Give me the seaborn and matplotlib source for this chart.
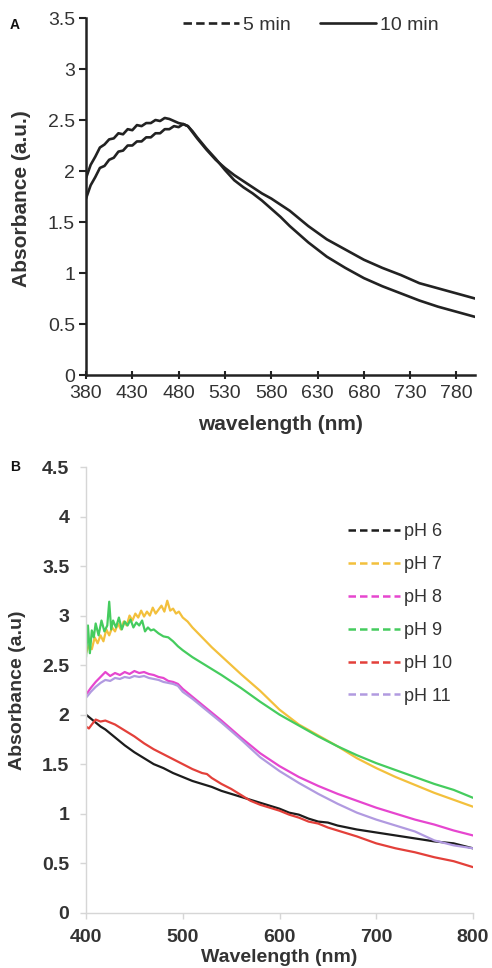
import numpy as np
import pandas as pd
import matplotlib
matplotlib.use("Agg")
import matplotlib.pyplot as plt
import seaborn as sns
from matplotlib.lines import Line2D

# ---------------- Panel A data ----------------
wl_a = [380, 385, 390, 395, 400, 405, 410, 415, 420, 425, 430, 435, 440, 445, 450,
        455, 460, 465, 470, 475, 480, 485, 490, 495, 500, 510, 520, 530, 540, 550,
        560, 570, 580, 590, 600, 620, 640, 660, 680, 700, 720, 740, 760, 780, 800]
abs_10min = [1.93, 2.06, 2.14, 2.23, 2.26, 2.31, 2.32, 2.37, 2.36, 2.41, 2.40, 2.45, 2.44, 2.47, 2.47,
             2.50, 2.49, 2.52, 2.51, 2.49, 2.47, 2.46, 2.44, 2.39, 2.33, 2.22, 2.12, 2.01, 1.91, 1.84,
             1.78, 1.71, 1.63, 1.55, 1.46, 1.30, 1.16, 1.05, 0.95, 0.87, 0.80, 0.73, 0.67, 0.62, 0.57]
abs_5min = [1.73, 1.86, 1.94, 2.03, 2.05, 2.11, 2.13, 2.19, 2.20, 2.25, 2.25, 2.29, 2.29, 2.33, 2.33,
            2.37, 2.37, 2.41, 2.41, 2.44, 2.43, 2.46, 2.44, 2.38, 2.32, 2.21, 2.11, 2.03, 1.96, 1.90,
            1.84, 1.78, 1.73, 1.67, 1.61, 1.46, 1.33, 1.23, 1.13, 1.05, 0.98, 0.90, 0.85, 0.80, 0.75]
xticks_a = [380, 430, 480, 530, 580, 630, 680, 730, 780]
yticks_a = [0, 0.5, 1, 1.5, 2, 2.5, 3, 3.5]
ytick_labels_a = ["0", "0.5", "1", "1.5", "2", "2.5", "3", "3.5"]

# ---------------- Panel B data ----------------
wl_ph6 = [400, 405, 410, 415, 420, 430, 440, 450, 460, 470, 480, 490, 500, 510, 520, 530, 540, 550,
          560, 570, 580, 590, 600, 610, 620, 630, 640, 650, 660, 680, 700, 720, 740, 760, 780, 800]
abs_ph6 = [2.00, 1.96, 1.92, 1.88, 1.85, 1.77, 1.69, 1.62, 1.56, 1.50, 1.46, 1.41, 1.37, 1.33, 1.30,
           1.27, 1.23, 1.20, 1.17, 1.14, 1.11, 1.08, 1.05, 1.01, 0.99, 0.95, 0.92, 0.91, 0.88, 0.84,
           0.81, 0.78, 0.75, 0.72, 0.70, 0.65]

wl_ph7 = [400, 403, 406, 409, 412, 415, 418, 421, 424, 427, 430, 433, 436, 439, 442, 445, 448, 451,
          454, 457, 460, 463, 466, 469, 472, 475, 478, 481, 484, 487, 490, 493, 496, 500, 505, 510,
          520, 530, 540, 550, 560, 580, 600, 620, 640, 660, 680, 700, 720, 740, 760, 780, 800]
abs_ph7 = [2.62, 2.70, 2.66, 2.78, 2.72, 2.80, 2.74, 2.86, 2.80, 2.88, 2.84, 2.92, 2.86, 2.94, 2.90,
           3.00, 2.95, 3.02, 2.98, 3.05, 2.99, 3.04, 3.00, 3.08, 3.02, 3.06, 3.10, 3.04, 3.15, 3.05,
           3.07, 3.02, 3.04, 2.98, 2.94, 2.88, 2.78, 2.68, 2.59, 2.50, 2.41, 2.24, 2.05, 1.90, 1.79,
           1.68, 1.56, 1.46, 1.37, 1.29, 1.21, 1.14, 1.07]

wl_ph8 = [400, 405, 410, 415, 420, 425, 430, 435, 440, 445, 450, 455, 460, 465, 470, 475, 480, 485,
          490, 495, 500, 510, 520, 530, 540, 560, 580, 600, 620, 640, 660, 680, 700, 720, 740, 760,
          780, 800]
abs_ph8 = [2.20, 2.27, 2.33, 2.38, 2.43, 2.39, 2.42, 2.40, 2.43, 2.41, 2.44, 2.42, 2.43, 2.41, 2.40,
           2.38, 2.37, 2.34, 2.33, 2.31, 2.26, 2.18, 2.10, 2.02, 1.94, 1.77, 1.61, 1.48, 1.37, 1.28,
           1.20, 1.13, 1.06, 1.00, 0.94, 0.89, 0.83, 0.78]

wl_ph9 = [400, 402, 404, 406, 408, 410, 413, 416, 419, 422, 424, 426, 428, 431, 434, 437, 440, 443,
          446, 449, 452, 455, 458, 461, 464, 467, 470, 475, 480, 485, 490, 495, 500, 510, 520, 530,
          540, 560, 580, 600, 620, 640, 660, 680, 700, 720, 740, 760, 780, 800]
abs_ph9 = [2.58, 2.90, 2.62, 2.85, 2.78, 2.92, 2.80, 2.95, 2.84, 2.90, 3.14, 2.86, 2.95, 2.88, 2.98,
           2.86, 2.94, 2.90, 2.96, 2.88, 2.93, 2.90, 2.95, 2.84, 2.88, 2.85, 2.86, 2.82, 2.79, 2.78,
           2.74, 2.69, 2.65, 2.58, 2.52, 2.46, 2.40, 2.27, 2.13, 2.00, 1.89, 1.78, 1.68, 1.59, 1.51,
           1.44, 1.37, 1.30, 1.24, 1.16]

wl_ph10 = [400, 403, 406, 410, 415, 420, 425, 430, 440, 450, 460, 470, 480, 490, 500, 510, 520, 525,
           530, 540, 550, 560, 570, 580, 590, 600, 610, 620, 630, 640, 650, 660, 680, 700, 720, 740,
           760, 780, 800]
abs_ph10 = [1.88, 1.86, 1.90, 1.95, 1.93, 1.94, 1.92, 1.90, 1.84, 1.78, 1.71, 1.65, 1.60, 1.55, 1.50,
            1.45, 1.41, 1.40, 1.36, 1.30, 1.25, 1.19, 1.13, 1.09, 1.06, 1.03, 0.99, 0.96, 0.92, 0.90,
            0.86, 0.83, 0.77, 0.70, 0.65, 0.61, 0.56, 0.52, 0.46]

wl_ph11 = [400, 405, 410, 415, 420, 425, 430, 435, 440, 445, 450, 455, 460, 465, 470, 475, 480, 485,
           490, 495, 500, 510, 520, 530, 540, 560, 580, 600, 620, 640, 660, 680, 700, 720, 740, 760,
           780, 800]
abs_ph11 = [2.17, 2.23, 2.28, 2.32, 2.35, 2.34, 2.37, 2.36, 2.38, 2.37, 2.39, 2.38, 2.39, 2.37, 2.36,
            2.35, 2.33, 2.32, 2.31, 2.29, 2.23, 2.16, 2.08, 2.00, 1.92, 1.75, 1.57, 1.43, 1.31, 1.20,
            1.10, 1.01, 0.94, 0.88, 0.82, 0.73, 0.68, 0.65]

ph_labels = ["pH 6", "pH 7", "pH 8", "pH 9", "pH 10", "pH 11"]
ph_colors = ["#1c1c1c", "#f3c03c", "#e646cf", "#45cc5e", "#e3403a", "#b19ae0"]
xticks_b = [400, 500, 600, 700, 800]
yticks_b = [0, 0.5, 1, 1.5, 2, 2.5, 3, 3.5, 4, 4.5]
ytick_labels_b = ["0", "0.5", "1", "1.5", "2", "2.5", "3", "3.5", "4", "4.5"]

# ---------------- Figure ----------------
sns.set_style("white")
plt.rcParams['font.family'] = ['Liberation Sans', 'DejaVu Sans']

W, H = 492, 968
fig = plt.figure(figsize=(W / 100, H / 100), dpi=100)
axA = fig.add_axes([86 / W, 1 - 375 / H, (475 - 86) / W, (375 - 18) / H])
axB = fig.add_axes([86 / W, 1 - 912.7 / H, (473 - 86) / W, (912.7 - 467) / H])

dark = "#222222"
txt = "#333333"

# Panel A
sns.lineplot(x=wl_a, y=abs_5min, ax=axA, color=dark, lw=1.9, estimator=None)
sns.lineplot(x=wl_a, y=abs_10min, ax=axA, color=dark, lw=1.9, estimator=None)
axA.set_xlim(380, 800)
axA.set_ylim(0, 3.5)
axA.set_xticks(xticks_a)
axA.set_xticklabels([str(v) for v in xticks_a])
axA.set_yticks(yticks_a)
axA.set_yticklabels(ytick_labels_a)
for s in ["top", "right"]:
    axA.spines[s].set_visible(False)
for s in ["left", "bottom"]:
    axA.spines[s].set_color(dark)
    axA.spines[s].set_linewidth(1.8)
axA.tick_params(axis="y", direction="out", length=5, width=1.5, color=dark, pad=3,
                labelsize=14, labelcolor=txt, left=True)
axA.tick_params(axis="x", direction="inout", length=6, width=1.5, color=dark, pad=4,
                labelsize=14, labelcolor=txt, bottom=True)
axA.set_xlabel("wavelength (nm)", fontsize=15, fontweight="bold", color=txt)
axA.set_ylabel("Absorbance (a.u.)", fontsize=15, fontweight="bold", color=txt)
axA.xaxis.set_label_coords(0.499, -0.14)
axA.xaxis.label.set_va("center")
axA.yaxis.set_label_coords(-0.165, 0.495)
axA.yaxis.label.set_va("center")
axA.grid(False)
hA = [Line2D([0], [0], color=dark, lw=1.9, dashes=(3.2, 1.6)),
      Line2D([0], [0], color=dark, lw=1.9)]
axA.legend(hA, ["5 min", "10 min"], loc="center", bbox_to_anchor=(0.578, 0.98), ncol=2,
           frameon=False, fontsize=14, handlelength=2.9, handletextpad=0.2,
           columnspacing=1.5, labelcolor=txt, borderpad=0)

# Panel B
series = [(wl_ph6, abs_ph6), (wl_ph7, abs_ph7), (wl_ph8, abs_ph8),
          (wl_ph9, abs_ph9), (wl_ph10, abs_ph10), (wl_ph11, abs_ph11)]
for (wl, ab), c in zip(series, ph_colors):
    sns.lineplot(x=wl, y=ab, ax=axB, color=c, lw=1.6, estimator=None)
axB.set_xlim(400, 800)
axB.set_ylim(0, 4.5)
axB.set_xticks(xticks_b)
axB.set_xticklabels([str(v) for v in xticks_b])
axB.set_yticks(yticks_b)
axB.set_yticklabels(ytick_labels_b)
for s in ["top", "right"]:
    axB.spines[s].set_visible(False)
for s in ["left", "bottom"]:
    axB.spines[s].set_color("#d6d6d6")
    axB.spines[s].set_linewidth(1.0)
axB.tick_params(axis="both", direction="out", length=4, width=1.0, color="#d6d6d6", pad=8,
                labelsize=14, labelcolor=txt, left=True, bottom=True)
for lab in axB.get_xticklabels() + axB.get_yticklabels():
    lab.set_fontweight("bold")
axB.set_xlabel("Wavelength (nm)", fontsize=14, fontweight="bold", color=txt)
axB.set_ylabel("Absorbance (a.u)", fontsize=14, fontweight="bold", color=txt)
axB.xaxis.set_label_coords(0.50, -0.101)
axB.xaxis.label.set_va("center")
axB.yaxis.set_label_coords(-0.176, 0.50)
axB.yaxis.label.set_va("center")
axB.grid(False)
hB = [Line2D([0], [0], color=c, lw=1.8, dashes=(3.0, 1.6)) for c in ph_colors]
axB.legend(hB, ph_labels, loc="center", bbox_to_anchor=(0.811, 0.670), frameon=False,
           fontsize=13, handlelength=2.9, handletextpad=0.2, labelspacing=0.88,
           labelcolor=txt, borderpad=0)

fig.text(15 / W, 1 - 25 / H, "A", fontsize=10, fontweight="bold", color="#111111",
         ha="center", va="center")
fig.text(15 / W, 1 - 467 / H, "B", fontsize=10, fontweight="bold", color="#111111",
         ha="center", va="center")

fig.savefig("out.png", dpi=100)
